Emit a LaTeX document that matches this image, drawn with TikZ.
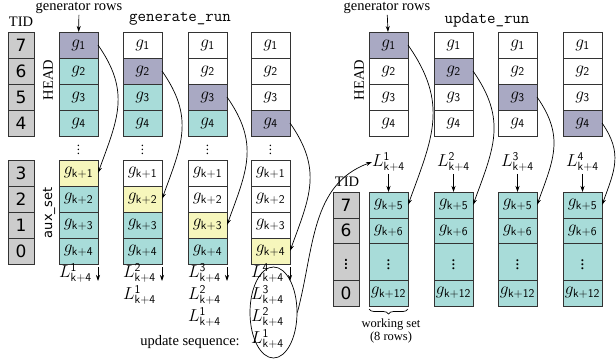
\documentclass[tikz,border=0pt]{standalone}
\usepackage{fontspec}
\setmainfont{Liberation Serif}
\newfontfamily\sansfnt{DejaVu Sans}
\usepackage{tikz}
\usetikzlibrary{positioning,calc,arrows.meta,shapes.geometric,decorations.pathreplacing}

\definecolor{tidgray}{HTML}{CCCCCC}
\definecolor{genpurple}{HTML}{A9A9C3}
\definecolor{headteal}{HTML}{A8DCD9}
\definecolor{newyellow}{HTML}{F6F6BC}

\tikzset{
  cell/.style={draw=black!80, line width=1pt, minimum width=39pt, minimum height=26pt,
    inner sep=0pt, outer sep=0pt, font=\fontsize{17}{18}\selectfont},
  tidcell/.style={cell, fill=tidgray, minimum width=26pt, font=\sansfnt\fontsize{17}{20}\selectfont},
  lab/.style={inner sep=0pt, font=\fontsize{17}{18}\selectfont},
  txt/.style={inner sep=1pt, font=\fontsize{14.5}{16}\selectfont},
  ttl/.style={inner sep=1pt, font=\ttfamily\fontsize{16.5}{18}\selectfont},
  flow/.style={-{Stealth[length=6pt,width=4pt]}, line width=0.7pt},
  curvarrow/.style={flow, out=-55, in=70, looseness=1.15},
}

\begin{document}
\begin{tikzpicture}[x=1pt, y=-1pt]
  \useasboundingbox (0,0) rectangle (616,364);

  % ---- generate_run ----
  \node[txt] (genrows) at (79,8) {generator rows};
  \node[ttl] (gentitle) at (180,19) {generate\_run};
  \node[txt] (tidl) at (21,22) {TID};
  \node[txt, rotate=90] (headl) at (48,80) {HEAD};
  \node[inner sep=1pt, rotate=90, font=\sansfnt\fontsize{13}{15}\selectfont] (auxl) at (49,213) {aux\_set};

  \foreach \r/\t in {1/7,2/6,3/5,4/4}
    \node[tidcell] (lth\r) at (21,19+26*\r) {\t};
  \foreach \r/\t in {1/3,2/2,3/1,4/0}
    \node[tidcell] (lta\r) at (21,147+26*\r) {\t};

  \foreach \c/\x in {1/78.5,2/142.5,3/207.5,4/270.5} {
    \foreach \r in {1,...,4} {
      \ifnum\r=\c \def\hf{genpurple}\def\af{newyellow}\else
        \ifnum\r>\c \def\hf{headteal}\def\af{headteal}\else
          \def\hf{white}\def\af{white}\fi\fi
      \node[cell, fill=\hf] (gh\c\r) at (\x,19+26*\r) {$g_{\mathsf{\r}}$};
      \node[cell, fill=\af] (ga\c\r) at (\x,147+26*\r) {$g_{\mathsf{k+\r}}$};
    }
    \node[inner sep=0pt, font=\fontsize{13}{14}\selectfont] (gd\c) at (\x,147) {$\vdots$};
    \draw[curvarrow] (gh\c\c.east) to (ga\c\c.east);
    \draw[flow] ([yshift=-3pt]ga\c4.south east) -- ++(0,14);
    \foreach \j in {1,...,\c} {
      \pgfmathtruncatemacro{\s}{\c-\j+1}
      \node[lab] (ll\c\j) at (\x-3,251+22*\j) {$L^{\mathsf{\s}}_{\mathsf{k+4}}$};
    }
  }

  \node[draw, ellipse, line width=0.7pt, minimum width=47pt, minimum height=91pt] (useq) at (273.5,312.5) {};
  \node[txt] (useqlbl) at (190,342) {update sequence:};
  \draw[flow] (genrows) -- (gh11);

  % ---- update_run ----
  \node[txt] (updrows) at (387,8) {generator rows};
  \node[ttl] (updtitle) at (487,20) {update\_run};
  \node[txt, rotate=90] (headr) at (359,80) {HEAD};

  \foreach \c/\x in {1/388.5,2/453.5,3/517.5,4/582.5} {
    \foreach \r in {1,...,4} {
      \ifnum\r=\c \def\hf{genpurple}\else\def\hf{white}\fi
      \node[cell, fill=\hf] (uh\c\r) at (\x,19+26*\r) {$g_{\mathsf{\r}}$};
    }
    \node[lab] (ul\c) at (\x,162) {$L^{\mathsf{\c}}_{\mathsf{k+4}}$};
    \node[cell, fill=headteal] (wk\c1) at (\x,205) {$g_{\mathsf{k+5}}$};
    \node[cell, fill=headteal, minimum height=25pt] (wk\c2) at (\x,230.5) {$g_{\mathsf{k+6}}$};
    \node[cell, fill=headteal, minimum height=37pt] (wk\c3) at (\x,261.5) {$\vdots$};
    \node[cell, fill=headteal] (wk\c4) at (\x,293) {$g_{\mathsf{k+12}}$};
    \draw[flow] ([yshift=-2pt]ul\c.south) -- (ul\c.south |- wk\c1.north);
    \draw[curvarrow] (uh\c\c.east) to (wk\c1.east);
  }

  \node[txt] (tidr) at (347,182) {TID};
  \node[tidcell] (rt1) at (346,205) {7};
  \node[tidcell, minimum height=25pt] (rt2) at (346,230.5) {6};
  \node[tidcell, minimum height=37pt] (rt3) at (346,261.5) {$\vdots$};
  \node[tidcell] (rt4) at (346,293) {0};

  \draw[flow] (updrows) -- (uh11);
  \draw[flow] (useq.east) to[out=75, in=200] (ul1.west);

  \draw[line width=0.7pt, decorate, decoration={brace, mirror, amplitude=5pt}]
    ([yshift=-3pt]wk14.south west) -- ([yshift=-3pt]wk14.south east) coordinate[midway] (wsmid);
  \node[inner sep=1pt, align=center, font=\fontsize{12.5}{13}\selectfont] (wslbl) at (391,331) {working set\\(8 rows)};
\end{tikzpicture}
\end{document}
